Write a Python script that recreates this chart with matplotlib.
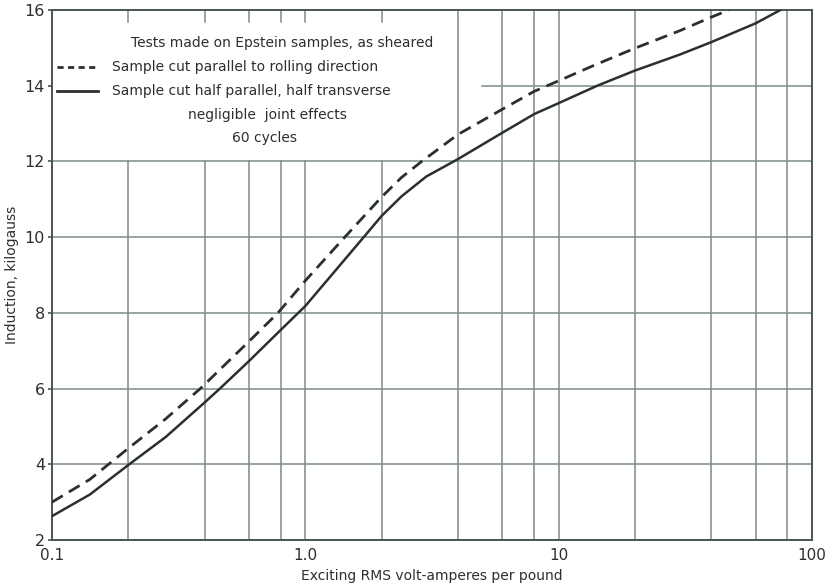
import matplotlib.pyplot as plt
import numpy as np

# curve: sample cut parallel to rolling direction (dashed)
par_x = [0.1, 0.141, 0.2, 0.281, 0.385, 0.6, 0.78, 1.0, 1.4, 2.0, 2.4, 2.88, 4.0, 6.0, 8.0, 10.0, 13.7, 20.0, 30.0, 40.0, 47.0]
par_y = [3.0, 3.6, 4.42, 5.2, 6.0, 7.25, 8.0, 8.85, 9.93, 11.06, 11.58, 12.0, 12.71, 13.38, 13.85, 14.13, 14.53, 14.99, 15.45, 15.81, 16.0]

# half parallel, half transverse (solid)
half_x = [0.1, 0.141, 0.2, 0.281, 0.4, 0.46, 0.6, 0.8, 1.0, 1.7, 2.0, 2.4, 3.0, 4.0, 6.0, 8.0, 10.0, 14.2, 20.0, 30.0, 40.0, 60.0, 75.0]
half_y = [2.63, 3.2, 3.98, 4.72, 5.63, 6.0, 6.73, 7.55, 8.18, 10.0, 10.56, 11.08, 11.6, 12.06, 12.76, 13.25, 13.54, 14.0, 14.4, 14.82, 15.15, 15.65, 16.0]

x_grid = [0.2, 0.4, 0.6, 0.8, 1.0, 2, 4, 6, 8, 10, 20, 40, 60, 80]
y_grid = [4, 6, 8, 10, 12, 14]
x_ticks = [0.1, 1.0, 10, 100]
x_ticklabels = ['0.1', '1.0', '10', '100']
y_ticks = [2, 4, 6, 8, 10, 12, 14, 16]

notes = ['Tests made on Epstein samples, as sheared',
         'Sample cut parallel to rolling direction',
         'Sample cut half parallel, half transverse',
         'negligible  joint effects',
         '60 cycles']

INK = '#2b302e'
GRID = '#7d8c88'

plt.rcParams['font.family'] = ['DejaVu Sans']

fig = plt.figure(figsize=(8.34, 5.84), dpi=100)
ax = fig.add_axes([52/834, 44/584, 760/834, 530/584])
ax.set_xscale('log')
ax.set_xlim(0.1, 100)
ax.set_ylim(2, 16)

# grid by hand, the note box in the top-left corner is left blank
for gx in x_grid:
    if gx <= 2:
        ax.plot([gx, gx], [2, 12], color=GRID, lw=1.1, zorder=1)
        ax.plot([gx, gx], [15.68, 16], color=GRID, lw=1.1, zorder=1)
    else:
        ax.plot([gx, gx], [2, 16], color=GRID, lw=1.1, zorder=1)
for gy in y_grid:
    x0 = 5.0 if gy == 14 else 0.1
    ax.plot([x0, 100], [gy, gy], color=GRID, lw=1.1, zorder=1)

ax.plot(par_x, par_y, color=INK, lw=2.0, dashes=(4.5, 2.6), solid_joinstyle='round', zorder=3)
ax.plot(half_x, half_y, color=INK, lw=1.8, solid_joinstyle='round', zorder=3)

# notes
ax.text(0.303, 0.938, notes[0], transform=ax.transAxes, ha='center', va='center', fontsize=10, color=INK)
ax.text(0.079, 0.892, notes[1], transform=ax.transAxes, ha='left', va='center', fontsize=10, color=INK)
ax.text(0.079, 0.847, notes[2], transform=ax.transAxes, ha='left', va='center', fontsize=10, color=INK)
ax.text(0.284, 0.802, notes[3], transform=ax.transAxes, ha='center', va='center', fontsize=10, color=INK)
ax.text(0.279, 0.758, notes[4], transform=ax.transAxes, ha='center', va='center', fontsize=10, color=INK)
ax.plot([0.007, 0.06], [0.892, 0.892], transform=ax.transAxes, color=INK, lw=2.0, dashes=(2.2, 1.6))
ax.plot([0.007, 0.06], [0.847, 0.847], transform=ax.transAxes, color=INK, lw=2.0)

for s in ax.spines.values():
    s.set_color('#4a5553')
    s.set_linewidth(1.4)

ax.set_xticks(x_ticks)
ax.set_xticklabels(x_ticklabels)
ax.xaxis.set_minor_locator(plt.NullLocator())
ax.set_yticks(y_ticks)
ax.tick_params(axis='x', length=0, pad=6, labelsize=11, labelcolor=INK)
ax.tick_params(axis='y', length=3, width=1.2, color='#4a5553', pad=2, labelsize=11.5, labelcolor=INK)

ax.set_xlabel('Exciting RMS volt-amperes per pound', fontsize=10, color=INK, labelpad=4)
ax.set_ylabel('Induction, kilogauss', fontsize=10, color=INK, labelpad=4)

fig.savefig('out.png', dpi=100)
